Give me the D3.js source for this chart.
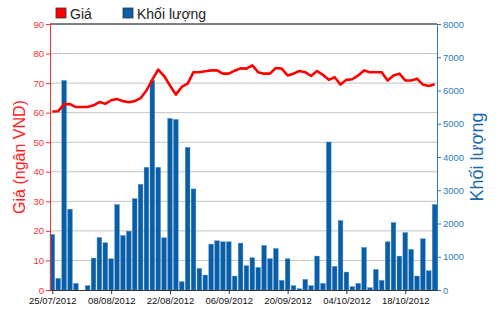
<!DOCTYPE html>
<html>
<head>
<meta charset="utf-8">
<script src="https://cdn.jsdelivr.net/npm/d3@7"></script>
<style>
  body { margin: 0; background: #fff; }
  svg { display: block; font-family: "Liberation Sans", Arial, sans-serif; }
</style>
</head>
<body>
<div id="chart"></div>
<script>
// trading days, 25/07/2012 .. 25/10/2012
const dates = [
  "25/07/2012","26/07/2012","27/07/2012","30/07/2012","31/07/2012","01/08/2012","02/08/2012","03/08/2012",
  "06/08/2012","07/08/2012","08/08/2012","09/08/2012","10/08/2012","13/08/2012","14/08/2012","15/08/2012",
  "16/08/2012","17/08/2012","20/08/2012","21/08/2012","22/08/2012","23/08/2012","24/08/2012","27/08/2012",
  "28/08/2012","29/08/2012","30/08/2012","31/08/2012","04/09/2012","05/09/2012","06/09/2012","07/09/2012",
  "10/09/2012","11/09/2012","12/09/2012","13/09/2012","14/09/2012","17/09/2012","18/09/2012","19/09/2012",
  "20/09/2012","21/09/2012","24/09/2012","25/09/2012","26/09/2012","27/09/2012","28/09/2012","01/10/2012",
  "02/10/2012","03/10/2012","04/10/2012","05/10/2012","08/10/2012","09/10/2012","10/10/2012","11/10/2012",
  "12/10/2012","15/10/2012","16/10/2012","17/10/2012","18/10/2012","19/10/2012","22/10/2012","23/10/2012",
  "24/10/2012","25/10/2012"
];

const price = [
  60.4, 60.5, 62.9, 62.9, 61.9, 61.9, 61.9, 62.5, 63.6, 63.0, 64.2, 64.6, 63.9, 63.5, 63.9, 64.9,
  67.5, 71.2, 74.6, 72.4, 69.2, 66.1, 68.7, 69.8, 73.7, 73.7, 74.0, 74.3, 74.3, 73.2, 73.2, 74.2,
  75.0, 74.9, 76.0, 73.7, 73.2, 73.2, 75.1, 74.9, 72.6, 73.2, 74.1, 73.7, 72.4, 74.1, 72.8, 71.1,
  72.0, 69.5, 71.1, 71.3, 72.6, 74.3, 73.7, 73.7, 73.7, 70.9, 72.6, 73.2, 70.9, 70.9, 71.5, 69.5,
  69.0, 69.6
];

const volume = [
  1670, 350, 6300, 2430, 200, 0, 130, 960, 1580, 1420, 940, 2570, 1640, 1770, 2750, 3180,
  3690, 6300, 3690, 1570, 5160, 5130, 250, 4290, 3040, 650, 450, 1380, 1480, 1450, 1450, 420,
  1410, 730, 970, 680, 1340, 940, 1250, 290, 940, 130, 40, 320, 130, 1020, 200, 4450,
  710, 2090, 540, 100, 200, 1280, 70, 620, 290, 1450, 2030, 1020, 1730, 1220, 420, 1540,
  580, 2570
];

const priceTicks = [0, 10, 20, 30, 40, 50, 60, 70, 80, 90];
const volumeTicks = [0, 1000, 2000, 3000, 4000, 5000, 6000, 7000, 8000];
const labelEvery = 10;

const width = 500, height = 312;
const plotL = 50, plotR = 437, plotT = 24, plotB = 290;

const svg = d3.select("#chart").append("svg")
  .attr("width", width)
  .attr("height", height);

const x = d3.scaleLinear().domain([-0.4, dates.length - 0.6]).range([plotL, plotR]);
const yP = d3.scaleLinear().domain([0, 90]).range([plotB, plotT]);
const yV = d3.scaleLinear().domain([0, 8000]).range([plotB, plotT]);

// grid
svg.append("g").selectAll("line")
  .data(priceTicks.filter(d => d > 0 && d < 90))
  .enter().append("line")
  .attr("x1", plotL).attr("x2", plotR)
  .attr("y1", d => yP(d)).attr("y2", d => yP(d))
  .attr("stroke", "#c4c4c4")
  .attr("stroke-width", 1);

// volume bars
const bw = 4.7;
svg.append("g").selectAll("rect")
  .data(volume)
  .enter().append("rect")
  .attr("x", (d, i) => x(i) - bw / 2)
  .attr("y", d => yV(d))
  .attr("width", bw)
  .attr("height", d => plotB - yV(d))
  .attr("fill", "#0a5ea8")
  .attr("stroke", "#4a8fcc")
  .attr("stroke-width", 0.4);

// price line
const line = d3.line()
  .x((d, i) => x(i))
  .y(d => yP(d));

svg.append("path")
  .datum(price)
  .attr("d", line)
  .attr("fill", "none")
  .attr("stroke", "#ff0000")
  .attr("stroke-width", 2.6)
  .attr("stroke-linejoin", "round");

// frame
svg.append("line")
  .attr("x1", plotL).attr("x2", plotR).attr("y1", plotT).attr("y2", plotT)
  .attr("stroke", "#555").attr("stroke-width", 1.5);

// left axis
const axL = svg.append("g")
  .attr("transform", `translate(${plotL},0)`)
  .call(d3.axisLeft(yP).tickValues(priceTicks).tickSize(4).tickPadding(2));
axL.select(".domain").attr("stroke", "#ff3030");
axL.selectAll(".tick line").attr("stroke", "#ff3030");
axL.selectAll("text").attr("fill", "#ff3030").attr("font-size", "9.5px")
  .attr("font-family", "'Liberation Sans', Arial, sans-serif");

// right axis
const axR = svg.append("g")
  .attr("transform", `translate(${plotR},0)`)
  .call(d3.axisRight(yV).tickValues(volumeTicks).tickFormat(d3.format("d")).tickSize(4).tickPadding(2));
axR.select(".domain").attr("stroke", "#2c7dbb");
axR.selectAll(".tick line").attr("stroke", "#2c7dbb");
axR.selectAll("text").attr("fill", "#2c7dbb").attr("font-size", "9.5px")
  .attr("font-family", "'Liberation Sans', Arial, sans-serif");

// bottom axis
const tickIdx = d3.range(0, dates.length, labelEvery);
const axB = svg.append("g")
  .attr("transform", `translate(0,${plotB})`)
  .call(d3.axisBottom(x).tickValues(tickIdx).tickFormat(i => dates[i]).tickSize(4).tickSizeOuter(0).tickPadding(3));
axB.select(".domain").attr("stroke", "#333");
axB.selectAll(".tick line").attr("stroke", "#333");
axB.selectAll("text").attr("fill", "#111").attr("font-size", "9.5px")
  .attr("font-family", "'Liberation Sans', Arial, sans-serif");

// axis titles
svg.append("text")
  .attr("transform", `translate(25,${(plotT + plotB) / 2}) rotate(-90)`)
  .attr("text-anchor", "middle")
  .attr("fill", "#ff2020")
  .attr("font-size", "16px")
  .text("Giá (ngân VND)");

svg.append("text")
  .attr("transform", `translate(483,${(plotT + plotB) / 2}) rotate(-90)`)
  .attr("text-anchor", "middle")
  .attr("fill", "#1a6aaa")
  .attr("font-size", "18px")
  .text("Khối lượng");

// legend
const legend = [
  { name: "Giá", color: "#ff0000", x: 56 },
  { name: "Khối lượng", color: "#0a5ea8", x: 123 }
];
const lg = svg.append("g").selectAll("g")
  .data(legend)
  .enter().append("g")
  .attr("transform", d => `translate(${d.x},8)`);
lg.append("rect")
  .attr("width", 10).attr("height", 10)
  .attr("fill", d => d.color)
  .attr("stroke", "#333").attr("stroke-width", 0.8);
lg.append("text")
  .attr("x", 14).attr("y", 10.5)
  .attr("font-size", "14px")
  .attr("fill", "#222")
  .text(d => d.name);
</script>
</body>
</html>
